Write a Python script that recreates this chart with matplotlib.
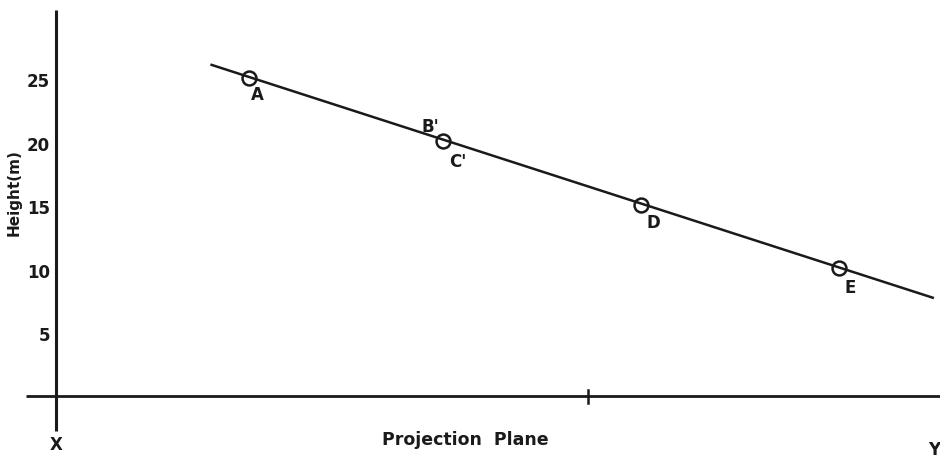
import matplotlib
matplotlib.use("Agg")
import matplotlib.pyplot as plt

# data
point_names = ["A", "C'", "D", "E"]
point_x = [0.98, 1.965, 2.97, 3.975]
point_y = [25, 20, 15, 10]
line_x = [0.79, 4.45]
line_y = [26.0, 7.7]
ytick_vals = [5, 10, 15, 20, 25]
ytick_labels = ["5", "10", "15", "20", "25"]
plane_mark_x = [2.70]

# labels near points
label_text = ["A", "B'", "C'", "D", "E"]
label_x = [1.02, 1.90, 2.04, 3.03, 4.03]
label_y = [23.6, 21.1, 18.4, 13.6, 8.5]

plt.rcParams['font.family'] = ['DejaVu Sans']
fig = plt.figure(figsize=(9.40, 4.59), dpi=100)
ax = fig.add_axes([0, 0, 1, 1])
ax.set_xlim(-0.284, 4.487)
ax.set_ylim(-4.98, 31.1)
ax.axis('off')

ink = '#1a1a1a'
# axes lines
ax.plot([0, 0], [-2.75, 30.3], color=ink, lw=2.2, solid_capstyle='butt')
ax.plot([-0.15, 4.49], [0, 0], color=ink, lw=2.0, solid_capstyle='butt')
for mx in plane_mark_x:
    ax.plot([mx, mx], [-0.55, 0.45], color=ink, lw=1.8)

# trend line and points
ax.plot(line_x, line_y, color=ink, lw=1.8)
ax.plot(point_x, point_y, linestyle='none', marker='o', markersize=10,
        markerfacecolor='none', markeredgecolor=ink, markeredgewidth=1.8)

for t, x, y in zip(label_text, label_x, label_y):
    ax.text(x, y, t, fontsize=12, fontweight='bold', ha='center', va='center', color=ink)

for v, s in zip(ytick_vals, ytick_labels):
    ax.text(-0.03, v - 0.35, s, fontsize=12, fontweight='bold', ha='right', va='center', color=ink)

ax.text(-0.21, 16.0, "Height(m)", rotation=90, fontsize=11, fontweight='bold',
        ha='center', va='center', color=ink)
ax.text(2.08, -3.5, "Projection  Plane", fontsize=12.5, fontweight='bold',
        ha='center', va='center', color=ink)
ax.text(0.0, -3.9, "X", fontsize=12, fontweight='bold', ha='center', va='center', color=ink)
ax.text(4.46, -4.3, "Y", fontsize=12, fontweight='bold', ha='center', va='center', color=ink)

fig.savefig("out.png", dpi=100, facecolor='white')
